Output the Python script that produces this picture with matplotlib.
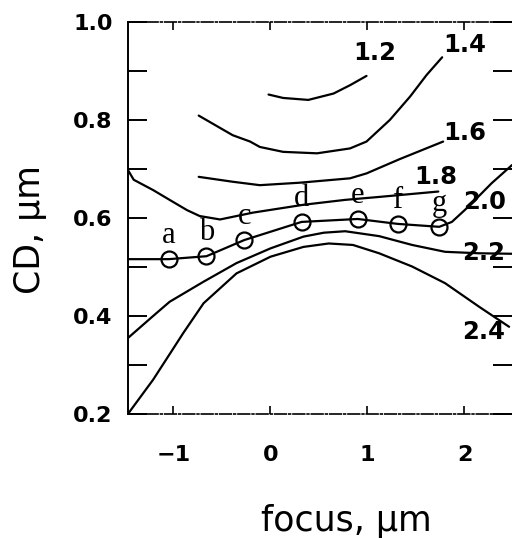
import matplotlib
matplotlib.use('Agg')
import matplotlib.pyplot as plt
from matplotlib.ticker import MultipleLocator, FormatStrFormatter

# ---- iso-exposure curves (focus in um, CD in um) ----
c12_x = [-0.02, 0.13, 0.39, 0.65, 0.82, 0.99]
c12_y = [0.852, 0.845, 0.841, 0.854, 0.871, 0.890]

c14_x = [-0.74, -0.39, -0.21, -0.11, 0.13, 0.48, 0.82, 0.99, 1.23, 1.44, 1.61, 1.77]
c14_y = [0.809, 0.769, 0.756, 0.745, 0.735, 0.732, 0.742, 0.756, 0.800, 0.848, 0.892, 0.928]

c16_x = [-0.74, -0.39, -0.11, 0.30, 0.82, 0.99, 1.33, 1.78]
c16_y = [0.684, 0.674, 0.667, 0.672, 0.681, 0.691, 0.720, 0.756]

c18_x = [-1.47, -1.41, -1.21, -1.04, -0.86, -0.73, -0.52, -0.18, 0.34, 0.77, 1.12, 1.73]
c18_y = [0.698, 0.678, 0.657, 0.637, 0.616, 0.604, 0.597, 0.611, 0.627, 0.637, 0.643, 0.654]

c20_x = [-1.47, -1.05, -0.66, -0.27, 0.32, 0.90, 1.31, 1.74, 1.87, 2.04, 2.28, 2.49]
c20_y = [0.516, 0.516, 0.522, 0.555, 0.592, 0.598, 0.588, 0.582, 0.592, 0.623, 0.671, 0.708]

c22_x = [-1.47, -1.21, -1.04, -0.69, -0.35, 0.0, 0.34, 0.55, 0.77, 1.12, 1.46, 1.80, 2.15, 2.49]
c22_y = [0.355, 0.40, 0.429, 0.470, 0.508, 0.538, 0.562, 0.570, 0.573, 0.563, 0.545, 0.531, 0.528, 0.527]

c24_x = [-1.47, -1.21, -1.04, -0.90, -0.69, -0.35, 0.0, 0.34, 0.60, 0.85, 1.12, 1.46, 1.80, 2.15, 2.46]
c24_y = [0.200, 0.270, 0.322, 0.365, 0.426, 0.487, 0.521, 0.541, 0.548, 0.545, 0.528, 0.501, 0.467, 0.419, 0.378]

curves = [(c12_x, c12_y), (c14_x, c14_y), (c16_x, c16_y), (c18_x, c18_y),
          (c20_x, c20_y), (c22_x, c22_y), (c24_x, c24_y)]

# dose labels and where they sit
dose_labels = ['1.2', '1.4', '1.6', '1.8', '2.0', '2.2', '2.4']
dose_lab_x = [1.08, 2.00, 2.00, 1.70, 2.21, 2.20, 2.20]
dose_lab_y = [0.937, 0.953, 0.773, 0.684, 0.633, 0.529, 0.367]

# measured points a..g on the 2.0 curve
pt_names = ['a', 'b', 'c', 'd', 'e', 'f', 'g']
pt_x = [-1.05, -0.66, -0.27, 0.32, 0.90, 1.31, 1.74]
pt_y = [0.516, 0.522, 0.555, 0.592, 0.598, 0.588, 0.582]

W, H = 512, 538
fig = plt.figure(figsize=(W / 100, H / 100), dpi=100)
ax = fig.add_axes([128 / W, 1 - 414 / H, 384 / W, 392 / H])

for xs, ys in curves:
    ax.plot(xs, ys, color='black', linewidth=1.6, solid_capstyle='round',
            solid_joinstyle='round')

ax.plot(pt_x, pt_y, linestyle='none', marker='o', markersize=11.5,
        markerfacecolor='none', markeredgecolor='black', markeredgewidth=1.6)

for name, x, y in zip(pt_names, pt_x, pt_y):
    ax.annotate(name, (x, y), textcoords='offset points', xytext=(0, 17),
                ha='center', va='center', fontsize=22,
                family='Liberation Serif')

for lab, x, y in zip(dose_labels, dose_lab_x, dose_lab_y):
    ax.text(x, y, lab, ha='center', va='center', fontsize=17.5,
            fontweight='bold')

ax.set_xlim(-1.469, 2.49)
ax.set_ylim(0.2, 1.0)

ax.xaxis.set_major_locator(MultipleLocator(1))
ax.yaxis.set_major_locator(MultipleLocator(0.2))
ax.yaxis.set_minor_locator(MultipleLocator(0.1))
ax.yaxis.set_major_formatter(FormatStrFormatter('%.1f'))

ax.tick_params(axis='y', which='both', direction='in', length=13.5, width=1.4,
               left=True, right=True, pad=11, labelsize=16)
ax.tick_params(axis='x', which='both', direction='in', length=5.5, width=1.2,
               top=True, bottom=True, pad=22, labelsize=16)
for lab in ax.get_xticklabels() + ax.get_yticklabels():
    lab.set_fontweight('bold')

ax.spines['right'].set_visible(False)
ax.spines['left'].set_linewidth(1.4)
for s in ('top', 'bottom'):
    ax.spines[s].set_linewidth(1.2)
    ax.spines[s].set_linestyle((0, (7, 1.5, 1, 1.5)))

fig.text(30 / W, 1 - 229 / H, 'CD, μm', rotation=90, ha='center',
         va='center', fontsize=25)
fig.text(346 / W, 1 - 521 / H, 'focus, μm', ha='center', va='center',
         fontsize=25)

fig.savefig('out.png', dpi=100)
